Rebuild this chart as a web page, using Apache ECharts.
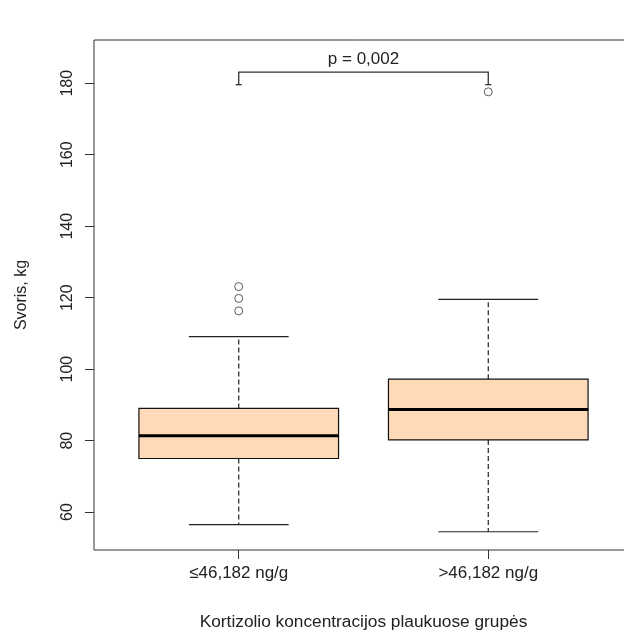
<!DOCTYPE html>
<html><head><meta charset="utf-8">
<script src="https://cdn.jsdelivr.net/npm/echarts@6/dist/echarts.min.js"></script>
<style>html,body{margin:0;padding:0;background:#fff}#c{width:624px;height:635px}</style>
</head><body><div id="c"></div>
<script>
const categories = ['≤46,182 ng/g', '>46,182 ng/g'];
const whiskerLow = [56.5, 54.5];
const quartile1 = [75.0, 80.2];
const medians = [81.4, 88.7];
const quartile3 = [89.0, 97.2];
const whiskerHigh = [109.1, 119.5];
const outlierGroup = [1, 1, 1, 2];
const outlierValues = [116.3, 119.8, 123.1, 177.6];
const yTicks = [60, 80, 100, 120, 140, 160, 180];
const bracketX = [1, 2];
const bracketTop = 183.1;
const bracketEnd = 179.6;
const pLabel = 'p = 0,002';
const pLabelY = 186.8;

const FONT = '"Liberation Sans", Arial, sans-serif';
const chart = echarts.init(document.getElementById('c'), null, {renderer: 'canvas'});

const boxData = categories.map((c, i) => [i + 1, whiskerLow[i], quartile1[i], medians[i], quartile3[i], whiskerHigh[i]]);
const outData = outlierValues.map((v, i) => [outlierGroup[i], v]);

function boxRender(params, api) {
  const x = api.value(0);
  const w = api.size([0.8, 0])[0];
  const capW = w / 2;
  const pMin = api.coord([x, api.value(1)]);
  const pQ1 = api.coord([x, api.value(2)]);
  const pMed = api.coord([x, api.value(3)]);
  const pQ3 = api.coord([x, api.value(4)]);
  const pMax = api.coord([x, api.value(5)]);
  const cx = pMed[0];
  const dash = {stroke: '#222', lineWidth: 1.2, lineDash: [5, 3]};
  const solid = {stroke: '#222', lineWidth: 1.2};
  return {type: 'group', children: [
    {type: 'line', shape: {x1: cx, y1: pQ3[1], x2: cx, y2: pMax[1]}, style: dash},
    {type: 'line', shape: {x1: cx, y1: pQ1[1], x2: cx, y2: pMin[1]}, style: dash},
    {type: 'line', shape: {x1: cx - capW / 2, y1: pMax[1], x2: cx + capW / 2, y2: pMax[1]}, style: solid},
    {type: 'line', shape: {x1: cx - capW / 2, y1: pMin[1], x2: cx + capW / 2, y2: pMin[1]}, style: solid},
    {type: 'rect', shape: {x: cx - w / 2, y: pQ3[1], width: w, height: pQ1[1] - pQ3[1]}, style: {fill: '#FFDAB9', stroke: '#111', lineWidth: 1.2}},
    {type: 'line', shape: {x1: cx - w / 2, y1: pMed[1], x2: cx + w / 2, y2: pMed[1]}, style: {stroke: '#000', lineWidth: 3}}
  ]};
}

function bracketRender(params, api) {
  const a = api.coord([bracketX[0], bracketTop]);
  const b = api.coord([bracketX[1], bracketTop]);
  const ae = api.coord([bracketX[0], bracketEnd]);
  const be = api.coord([bracketX[1], bracketEnd]);
  const t = api.coord([(bracketX[0] + bracketX[1]) / 2, pLabelY]);
  const st = {stroke: '#333', lineWidth: 1.3};
  return {type: 'group', children: [
    {type: 'polyline', shape: {points: [[ae[0], ae[1]], [a[0], a[1]], [b[0], b[1]], [be[0], be[1]]]}, style: {stroke: '#333', lineWidth: 1.3, fill: null}},
    {type: 'line', shape: {x1: ae[0] - 3, y1: ae[1], x2: ae[0] + 3, y2: ae[1]}, style: st},
    {type: 'line', shape: {x1: be[0] - 3, y1: be[1], x2: be[0] + 3, y2: be[1]}, style: st},
    {type: 'text', x: t[0], y: t[1], style: {text: pLabel, font: '17px ' + FONT, fill: '#222', align: 'center', verticalAlign: 'middle'}}
  ]};
}

chart.setOption({
  animation: false,
  backgroundColor: '#fff',
  grid: {left: 94, top: 40, bottom: 85, right: -9, outerBoundsMode: 'none', containLabel: false,
    show: true, borderColor: '#333', borderWidth: 1, backgroundColor: 'transparent'},
  xAxis: {
    type: 'value', min: 0.42, max: 2.58,
    axisLine: {show: false}, splitLine: {show: false},
    axisTick: {show: true, length: 9, lineStyle: {color: '#333'}, customValues: [1, 2]},
    axisLabel: {customValues: [1, 2], margin: 15, fontSize: 17, fontFamily: FONT, color: '#222',
      formatter: v => categories[Math.round(v) - 1] || ''},
    name: 'Kortizolio koncentracijos plaukuose grupės', nameLocation: 'middle', nameGap: 64,
    nameTextStyle: {fontSize: 17.3, fontFamily: FONT, color: '#222'}
  },
  yAxis: {
    type: 'value', min: 49.4, max: 192.1,
    axisLine: {show: false}, splitLine: {show: false},
    axisTick: {show: true, length: 9, lineStyle: {color: '#333'}, customValues: yTicks},
    axisLabel: {customValues: yTicks, rotate: 90, margin: 18, fontSize: 16, fontFamily: FONT, color: '#222'},
    name: 'Svoris, kg', nameLocation: 'middle', nameRotate: 90, nameGap: 64,
    nameTextStyle: {fontSize: 16, fontFamily: FONT, color: '#222'}
  },
  series: [
    {type: 'custom', renderItem: boxRender, data: boxData, encode: {x: 0, y: [1, 2, 3, 4, 5]}, z: 2},
    {type: 'scatter', data: outData, symbol: 'circle', symbolSize: 8, itemStyle: {color: 'rgba(255,255,255,0)', borderColor: '#333', borderWidth: 1}, z: 3},
    {type: 'custom', renderItem: bracketRender, data: [[1.5, bracketTop]], encode: {x: 0, y: 1}, z: 4}
  ]
});
</script></body></html>
